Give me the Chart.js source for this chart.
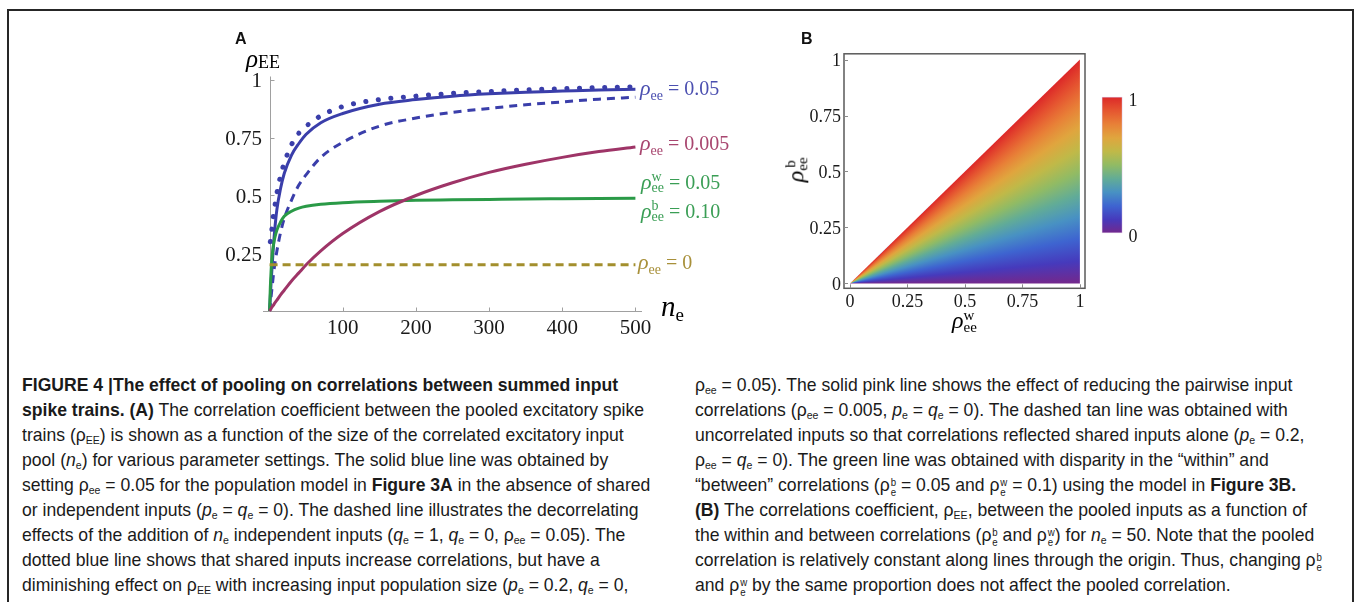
<!DOCTYPE html>
<html>
<head>
<meta charset="utf-8">
<script src="https://cdn.jsdelivr.net/npm/chart.js@4.4.1/dist/chart.umd.min.js"></script>
<style>
  html, body { margin:0; padding:0; background:#fff; }
  body { width:1356px; height:602px; position:relative; overflow:hidden; }
  .frame { position:absolute; left:7px; top:9px; width:1347px; height:700px; box-sizing:border-box;
           border:2px solid #262626; }
  canvas { position:absolute; }
  .pl { position:absolute; font-family:'Liberation Sans',Arial,sans-serif; font-weight:bold; font-size:16px; line-height:16px; color:#111; }
  .ml { position:absolute; font-family:'Liberation Serif',serif; font-size:20px; line-height:20px; white-space:nowrap; }
  .ml .r { font-style:italic; font-size:22px; }
  .ml .s { font-size:14px; position:relative; top:5px; }
  .ml .eq { margin:0 5px; }
  .ml .st { display:inline-block; vertical-align:middle; font-size:14px; line-height:11px; position:relative; top:-2px; }
  .ml .st span { display:block; }
  .cap { position:absolute; font-family:'Liberation Sans',Arial,sans-serif; font-size:19px; line-height:25px; color:#1a1a1a; }
  .cap div { white-space:nowrap; transform-origin:0 50%; height:25px; }
  .cap sub { font-size:0.6em; vertical-align:-0.3em; line-height:0; }
  .cap .st { display:inline-flex; flex-direction:column; font-size:0.55em; line-height:1; vertical-align:0.45em; margin-left:1px; }
</style>
</head>
<body>
<div class="frame"></div>

<canvas id="cA" width="500" height="310" style="left:200px; top:40px;"></canvas>
<canvas id="cB" width="330" height="300" style="left:780px; top:40px;"></canvas>
<canvas id="cC" width="55" height="170" style="left:1095px; top:80px;"></canvas>

<div class="pl" style="left:235px; top:31px;">A</div>
<div class="pl" style="left:801px; top:31px;">B</div>

<!-- panel A axis titles -->
<div class="ml" style="left:246px; top:49px;"><span class="r" style="font-size:25px;">ρ</span><span style="font-size:18px; position:relative; top:1px;">EE</span></div>
<div class="ml" style="left:661px; top:296px;"><span class="r" style="font-size:29px;">n</span><span style="font-size:19px; position:relative; top:5px;">e</span></div>

<!-- panel A curve labels -->
<div class="ml" style="left:640px; top:78px; color:#4b4fb0;"><span class="r">ρ</span><span class="s">ee</span><span class="eq">=</span>0.05</div>
<div class="ml" style="left:640px; top:133px; color:#a8466f;"><span class="r">ρ</span><span class="s">ee</span><span class="eq">=</span>0.005</div>
<div class="ml" style="left:641px; top:172px; color:#3a9e55;"><span class="r">ρ</span><span class="st"><span>w</span><span>ee</span></span><span class="eq">=</span>0.05</div>
<div class="ml" style="left:641px; top:201px; color:#3a9e55;"><span class="r">ρ</span><span class="st"><span>b</span><span>ee</span></span><span class="eq">=</span>0.10</div>
<div class="ml" style="left:638px; top:252px; color:#a8903a;"><span class="r">ρ</span><span class="s">ee</span><span class="eq">=</span>0</div>

<!-- panel B axis titles -->
<div class="ml" style="left:952px; top:310px;"><span class="r" style="font-size:24px;">ρ</span><span class="st" style="font-size:15px; line-height:12px;"><span>w</span><span>ee</span></span></div>
<div class="ml" style="left:776px; top:157px; transform:rotate(-90deg); transform-origin:50% 50%; width:44px; text-align:center;"><span class="r" style="font-size:24px;">ρ</span><span class="st" style="font-size:15px; line-height:12px;"><span>b</span><span>ee</span></span></div>

<!-- caption -->
<div class="cap" id="capL" style="left:22px; top:371.5px;">
  <div><b>FIGURE 4 |The effect of pooling on correlations between summed input</b></div>
  <div><b>spike trains. (A)</b> The correlation coefficient between the pooled excitatory spike</div>
  <div>trains (ρ<sub>EE</sub>) is shown as a function of the size of the correlated excitatory input</div>
  <div>pool (<i>n</i><sub>e</sub>) for various parameter settings. The solid blue line was obtained by</div>
  <div>setting ρ<sub>ee</sub> = 0.05 for the population model in <b>Figure 3A</b> in the absence of shared</div>
  <div>or independent inputs (<i>p</i><sub>e</sub> = <i>q</i><sub>e</sub> = 0). The dashed line illustrates the decorrelating</div>
  <div>effects of the addition of <i>n</i><sub>e</sub> independent inputs (<i>q</i><sub>e</sub> = 1, <i>q</i><sub>e</sub> = 0, ρ<sub>ee</sub> = 0.05). The</div>
  <div>dotted blue line shows that shared inputs increase correlations, but have a</div>
  <div>diminishing effect on ρ<sub>EE</sub> with increasing input population size (<i>p</i><sub>e</sub> = 0.2, <i>q</i><sub>e</sub> = 0,</div>
</div>
<div class="cap" id="capR" style="left:695px; top:371.5px;">
  <div>ρ<sub>ee</sub> = 0.05). The solid pink line shows the effect of reducing the pairwise input</div>
  <div>correlations (ρ<sub>ee</sub> = 0.005, <i>p</i><sub>e</sub> = <i>q</i><sub>e</sub> = 0). The dashed tan line was obtained with</div>
  <div>uncorrelated inputs so that correlations reflected shared inputs alone (<i>p</i><sub>e</sub> = 0.2,</div>
  <div>ρ<sub>ee</sub> = <i>q</i><sub>e</sub> = 0). The green line was obtained with disparity in the “within” and</div>
  <div>“between” correlations (ρ<span class="st"><span>b</span><span>e</span></span> = 0.05 and ρ<span class="st"><span>w</span><span>e</span></span> = 0.1) using the model in <b>Figure 3B.</b></div>
  <div><b>(B)</b> The correlations coefficient, ρ<sub>EE</sub>, between the pooled inputs as a function of</div>
  <div>the within and between correlations (ρ<span class="st"><span>b</span><span>e</span></span> and ρ<span class="st"><span>w</span><span>e</span></span>) for <i>n</i><sub>e</sub> = 50. Note that the pooled</div>
  <div>correlation is relatively constant along lines through the origin. Thus, changing ρ<span class="st"><span>b</span><span>e</span></span></div>
  <div>and ρ<span class="st"><span>w</span><span>e</span></span> by the same proportion does not affect the pooled correlation.</div>
</div>

<script>
// ---------------- DATA (panel A) ----------------
const nE = [0, 1, 2, 3, 5, 7, 10, 15, 20, 30, 40, 50, 70, 100, 150, 200, 250, 300, 350, 400, 450, 500];
const rhoSolidBlue  = [0, 0.06, 0.12, 0.17, 0.27, 0.35, 0.44, 0.53, 0.595, 0.675, 0.725, 0.765, 0.815, 0.855, 0.895, 0.915, 0.93, 0.94, 0.947, 0.952, 0.957, 0.96];
const rhoDashedBlue = [0, 0.03, 0.06, 0.09, 0.15, 0.2, 0.26, 0.34, 0.40, 0.48, 0.545, 0.59, 0.665, 0.73, 0.80, 0.835, 0.86, 0.877, 0.893, 0.905, 0.917, 0.925];
const rhoDottedBlue = [null, 0.30, 0.32, 0.35, 0.41, 0.45, 0.51, 0.585, 0.64, 0.72, 0.77, 0.80, 0.845, 0.885, 0.915, 0.93, 0.942, 0.95, 0.957, 0.962, 0.967, 0.97];
const rhoPink       = [0, 0.005, 0.01, 0.015, 0.024, 0.034, 0.047, 0.07, 0.09, 0.13, 0.165, 0.2, 0.26, 0.335, 0.43, 0.5, 0.555, 0.6, 0.635, 0.665, 0.69, 0.71];
const rhoGreen      = [0, 0.10, 0.17, 0.22, 0.28, 0.315, 0.35, 0.385, 0.41, 0.432, 0.445, 0.453, 0.462, 0.469, 0.475, 0.479, 0.481, 0.483, 0.485, 0.486, 0.487, 0.488];
const rhoTan        = [0.2, 0.2, 0.2, 0.2, 0.2, 0.2, 0.2, 0.2, 0.2, 0.2, 0.2, 0.2, 0.2, 0.2, 0.2, 0.2, 0.2, 0.2, 0.2, 0.2, 0.2, 0.2];
const xTicksA = [100, 200, 300, 400, 500];
const yTicksA = [0.25, 0.5, 0.75, 1];

// ---------------- DATA (panel B) ----------------
const triW = [0, 1];           // diagonal edge of the admissible region (b <= w)
const triB = [0, 1];
const rayB   = [0, 0.05, 0.1, 0.15, 0.2, 0.25, 0.3, 0.35, 0.4, 0.45, 0.5, 0.55, 0.6, 0.65, 0.7, 0.75, 0.8, 0.85, 0.9, 0.95, 1]; // b at w = 1
const rayRho = [0, 0.05, 0.1, 0.15, 0.2, 0.25, 0.3, 0.35, 0.4, 0.45, 0.5, 0.55, 0.6, 0.65, 0.7, 0.75, 0.8, 0.85, 0.9, 0.95, 1]; // pooled corr read via colour bar
const ticksB = [0, 0.25, 0.5, 0.75, 1];
const cbarTicks = [0, 1];

// colour map (rainbow) stops
const cmapPos = [0, 0.1, 0.2, 0.3, 0.4, 0.5, 0.6, 0.7, 0.8, 0.9, 1];
const cmapRGB = [[115,40,140],[70,58,188],[62,100,208],[72,145,195],[98,172,150],[145,187,100],[192,185,72],[224,165,62],[232,128,55],[229,85,48],[220,40,40]];

function cmap(v) {
  v = Math.max(0, Math.min(1, v));
  for (let i = 1; i < cmapPos.length; i++) {
    if (v <= cmapPos[i]) {
      const t = (v - cmapPos[i-1]) / (cmapPos[i] - cmapPos[i-1]);
      const a = cmapRGB[i-1], b = cmapRGB[i];
      return 'rgb(' + a.map((c, k) => Math.round(c + (b[k] - c) * t)).join(',') + ')';
    }
  }
  const l = cmapRGB[cmapRGB.length-1];
  return 'rgb(' + l.join(',') + ')';
}

function pts(xs, ys) {
  const out = [];
  xs.forEach((x, i) => { if (ys[i] !== null) out.push({x: x, y: ys[i]}); });
  return out;
}

const serif = 'Liberation Serif';

// ---------------- Panel A ----------------
const axesA = {
  id: 'axesA',
  beforeDatasetsDraw(chart) {
    const {ctx, scales: {x, y}, chartArea: a} = chart;
    ctx.save();
    ctx.strokeStyle = '#a0a0a0';
    ctx.lineWidth = 1;
    const x0 = Math.round(x.getPixelForValue(0)) + 0.5;
    const yb = Math.round(y.getPixelForValue(0)) + 0.5;
    ctx.beginPath();
    ctx.moveTo(a.left, yb); ctx.lineTo(a.right, yb);
    ctx.moveTo(x0, yb); ctx.lineTo(x0, a.top);
    xTicksA.forEach(v => { const px = Math.round(x.getPixelForValue(v)) + 0.5; ctx.moveTo(px, yb); ctx.lineTo(px, yb - 4); });
    yTicksA.forEach(v => { const py = Math.round(y.getPixelForValue(v)) + 0.5; ctx.moveTo(x0, py); ctx.lineTo(x0 + 4, py); });
    ctx.stroke();
    ctx.restore();
  }
};

const lineDs = (data, color, width, dash, cap) => ({
  data: data, showLine: true, borderColor: color, backgroundColor: color, borderWidth: width,
  borderDash: dash || [], borderCapStyle: cap || 'butt', pointRadius: 0, fill: false,
  cubicInterpolationMode: 'monotone', clip: false
});

new Chart(document.getElementById('cA'), {
  type: 'scatter',
  data: {
    datasets: [
      lineDs(pts(nE, rhoTan), '#a38f2d', 3, [8, 5]),
      lineDs(pts(nE, rhoPink), '#9e3467', 3),
      lineDs(pts(nE, rhoGreen), '#2a9a47', 3),
      lineDs(pts(nE, rhoDashedBlue), '#3a3eaa', 3, [8, 6]),
      lineDs(pts(nE, rhoSolidBlue), '#3a3eaa', 3),
      lineDs(pts(nE, rhoDottedBlue), '#3a3eaa', 5, [0.1, 12.5], 'round')
    ]
  },
  options: {
    responsive: false, animation: false, devicePixelRatio: 1,
    layout: { padding: { left: 0, right: 58, top: 36.5, bottom: 0 } },
    plugins: { legend: { display: false }, tooltip: { enabled: false } },
    scales: {
      x: {
        type: 'linear', min: -9, max: 509,
        afterBuildTicks: s => { s.ticks = xTicksA.map(v => ({ value: v })); },
        afterFit: s => { s.height = 39; },
        grid: { display: false, drawTicks: false }, border: { display: false },
        ticks: { font: { family: serif, size: 21 }, color: '#1a1a1a', padding: 5, maxRotation: 0, autoSkip: false, callback: v => String(v) }
      },
      y: {
        type: 'linear', min: 0, max: 1.015,
        afterBuildTicks: s => { s.ticks = yTicksA.map(v => ({ value: v })); },
        afterFit: s => { s.width = 63; },
        grid: { display: false, drawTicks: false }, border: { display: false },
        ticks: { font: { family: serif, size: 21 }, color: '#1a1a1a', padding: 1, labelOffset: 2, autoSkip: false, callback: v => String(v) }
      }
    }
  },
  plugins: [axesA]
});

// ---------------- Panel B ----------------
const frameB = {
  id: 'frameB',
  afterDatasetsDraw(chart) {
    const {ctx, scales: {x, y}, chartArea: a} = chart;
    ctx.save();
    ctx.strokeStyle = '#5a5a5a';
    ctx.lineWidth = 1.5;
    ctx.strokeRect(a.left, a.top, a.right - a.left, a.bottom - a.top);
    ctx.lineWidth = 1;
    ctx.strokeStyle = '#8a8a8a';
    ctx.beginPath();
    ticksB.forEach(v => {
      const px = Math.round(x.getPixelForValue(v)) + 0.5;
      ctx.moveTo(px, a.bottom); ctx.lineTo(px, a.bottom - 4);
      const py = Math.round(y.getPixelForValue(v)) + 0.5;
      ctx.moveTo(a.left, py); ctx.lineTo(a.left + 4, py);
    });
    ctx.stroke();
    ctx.restore();
  }
};

new Chart(document.getElementById('cB'), {
  type: 'scatter',
  data: {
    datasets: [{
      data: pts(triW, triB), showLine: true, pointRadius: 0, borderWidth: 0,
      borderColor: 'rgba(0,0,0,0)', fill: 'origin',
      backgroundColor: (c) => {
        const chart = c.chart;
        const {chartArea, scales} = chart;
        if (!chartArea || !scales.x || !scales.y) return 'rgba(0,0,0,0)';
        const x = scales.x, y = scales.y;
        const ox = x.getPixelForValue(0), oy = y.getPixelForValue(0);
        const ang = b => Math.atan2(y.getPixelForValue(b) - oy, x.getPixelForValue(1) - ox);
        const a0 = ang(rayB[rayB.length - 1]) - 0.002;
        const g = chart.ctx.createConicGradient(a0, ox, oy);
        for (let i = rayB.length - 1; i >= 0; i--) {
          g.addColorStop((ang(rayB[i]) - a0) / (2 * Math.PI), cmap(rayRho[i]));
        }
        return g;
      }
    }]
  },
  options: {
    responsive: false, animation: false, devicePixelRatio: 1,
    layout: { padding: { left: 0, right: 25, top: 8.3, bottom: 0 } },
    plugins: { legend: { display: false }, tooltip: { enabled: false } },
    scales: {
      x: {
        type: 'linear', min: -0.026, max: 1.022,
        afterBuildTicks: s => { s.ticks = ticksB.map(v => ({ value: v })); },
        afterFit: s => { s.height = 51.7; },
        grid: { display: false, drawTicks: false }, border: { display: false },
        ticks: { font: { family: serif, size: 18 }, color: '#1a1a1a', padding: 3, maxRotation: 0, autoSkip: false, callback: v => String(v) }
      },
      y: {
        type: 'linear', min: -0.022, max: 1.026,
        afterBuildTicks: s => { s.ticks = ticksB.map(v => ({ value: v })); },
        afterFit: s => { s.width = 64; },
        grid: { display: false, drawTicks: false }, border: { display: false },
        ticks: { font: { family: serif, size: 18 }, color: '#1a1a1a', padding: 3, labelOffset: 2, autoSkip: false, callback: v => String(v) }
      }
    }
  },
  plugins: [frameB]
});

// ---------------- Colour bar ----------------
new Chart(document.getElementById('cC'), {
  type: 'bar',
  data: {
    labels: [''],
    datasets: [{
      data: [[cbarTicks[0], cbarTicks[1]]],
      barPercentage: 1, categoryPercentage: 1, borderWidth: 1, borderColor: 'rgba(215,190,225,0.9)', borderSkipped: false,
      backgroundColor: (c) => {
        const chart = c.chart;
        const {chartArea, scales} = chart;
        if (!chartArea || !scales.y) return 'rgba(0,0,0,0)';
        const y = scales.y;
        const g = chart.ctx.createLinearGradient(0, y.getPixelForValue(0), 0, y.getPixelForValue(1));
        cmapPos.forEach(p => g.addColorStop(p, cmap(p)));
        return g;
      }
    }]
  },
  options: {
    responsive: false, animation: false, devicePixelRatio: 1,
    layout: { padding: { left: 6.7, right: 0, top: 6, bottom: 9.5 } },
    plugins: { legend: { display: false }, tooltip: { enabled: false } },
    scales: {
      x: { display: false },
      y: {
        position: 'right', min: 0, max: 1,
        afterBuildTicks: s => { s.ticks = cbarTicks.map(v => ({ value: v })); },
        afterFit: s => { s.width = 27.5; },
        grid: { display: false, drawTicks: false }, border: { display: false },
        ticks: { font: { family: serif, size: 18 }, color: '#1a1a1a', padding: 6, labelOffset: 4, autoSkip: false, callback: v => String(v) }
      }
    }
  }
});

// ---------------- caption fitting (condensed face) ----------------
(function () {
  const L = document.getElementById('capL').children;
  const R = document.getElementById('capR').children;
  const ref = L[1];
  ref.style.display = 'inline-block';
  const w = ref.getBoundingClientRect().width;
  ref.style.display = '';
  const s = 622 / w;
  [...L, ...R].forEach(d => { d.style.transform = 'scaleX(' + s + ')'; });
})();
</script>
</body>
</html>
